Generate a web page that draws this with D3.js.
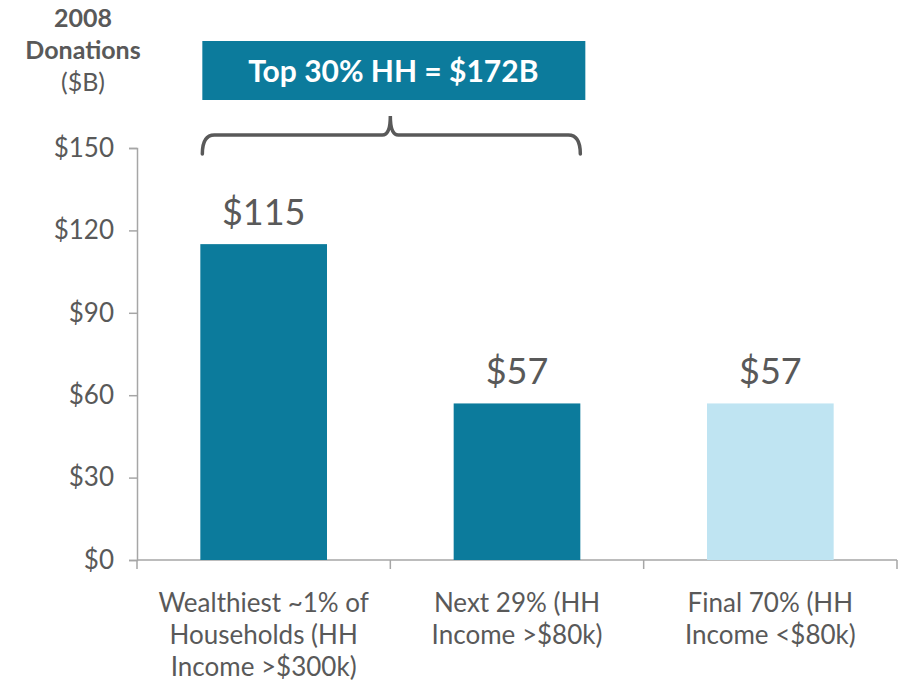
<!DOCTYPE html>
<html>
<head>
<meta charset="utf-8">
<script src="https://cdn.jsdelivr.net/npm/d3@7"></script>
<style>
  body { margin: 0; background: #fff; }
  text { font-family: "Lato", "Open Sans", sans-serif; }
</style>
</head>
<body>
<script>
// chart data
var categories = [
    ["Wealthiest ~1% of", "Households (HH", "Income >$300k)"],
    ["Next 29% (HH", "Income >$80k)"],
    ["Final 70% (HH", "Income <$80k)"]
];
var values = [115, 57, 57];
var valueLabels = ["$115", "$57", "$57"];
var barColors = ["#0c7b9c", "#0c7b9c", "#bfe4f2"];
var yTicks = [0, 30, 60, 90, 120, 150];
var calloutText = "Top 30% HH = $172B";

var width = 898, height = 683;
var grey = "#595959";

var svg = d3.select("body")
    .append("svg")
    .attr("width", width)
    .attr("height", height);

var x = d3.scaleBand()
    .domain(d3.range(values.length))
    .range([137, 897])
    .paddingInner(0.5)
    .paddingOuter(0.25);

var y = d3.scaleLinear()
    .domain([0, 150])
    .range([560, 148]);

// y axis
var yAxis = svg.append("g")
    .attr("transform", "translate(137,0)")
    .call(d3.axisLeft(y).tickValues(yTicks).tickSize(8).tickPadding(15).tickFormat(function(d) { return "$" + d; }));
yAxis.select(".domain").attr("stroke", "#a6a6a6").attr("stroke-width", 1.5);
yAxis.selectAll(".tick line").attr("stroke", "#a6a6a6").attr("stroke-width", 1.5);
yAxis.selectAll(".tick text")
    .attr("fill", grey)
    .style("font-size", "26px")
    .style("font-family", "Lato, sans-serif");

// x axis line with category dividers
var xAxisG = svg.append("g");
xAxisG.append("line")
    .attr("x1", 137).attr("x2", 897)
    .attr("y1", y(0)).attr("y2", y(0))
    .attr("stroke", "#a6a6a6").attr("stroke-width", 1.5);
var step = x.step();
d3.range(values.length + 1).forEach(function(i) {
    var xx = 137 + i * step;
    xAxisG.append("line")
        .attr("x1", xx).attr("x2", xx)
        .attr("y1", y(0)).attr("y2", y(0) + 9)
        .attr("stroke", "#a6a6a6").attr("stroke-width", 1.5);
});

// bars
svg.selectAll(".bar")
    .data(values)
    .enter()
    .append("rect")
    .attr("class", "bar")
    .attr("x", function(d, i) { return x(i); })
    .attr("y", function(d) { return y(d); })
    .attr("width", x.bandwidth())
    .attr("height", function(d) { return y(0) - y(d); })
    .attr("fill", function(d, i) { return barColors[i]; });

// value labels
svg.selectAll(".val")
    .data(values)
    .enter()
    .append("text")
    .attr("class", "val")
    .attr("x", function(d, i) { return x(i) + x.bandwidth() / 2; })
    .attr("y", function(d) { return y(d) - 19; })
    .attr("text-anchor", "middle")
    .attr("fill", grey)
    .style("font-size", "36px")
    .text(function(d, i) { return valueLabels[i]; });

// category labels
var cat = svg.selectAll(".cat")
    .data(categories)
    .enter()
    .append("text")
    .attr("class", "cat")
    .attr("text-anchor", "middle")
    .attr("fill", grey)
    .style("font-size", "26px")
    .attr("x", function(d, i) { return x(i) + x.bandwidth() / 2; })
    .attr("y", 612);
cat.each(function(d, i) {
    var t = d3.select(this);
    d.forEach(function(line, j) {
        t.append("tspan")
            .attr("x", x(i) + x.bandwidth() / 2)
            .attr("dy", j == 0 ? 0 : 32)
            .text(line);
    });
});

// axis title
var title = svg.append("text")
    .attr("text-anchor", "middle")
    .attr("fill", grey)
    .style("font-size", "25px");
title.append("tspan").attr("x", 83).attr("y", 27).style("font-weight", "bold").text("2008");
title.append("tspan").attr("x", 83).attr("y", 59).style("font-weight", "bold").text("Donations");
title.append("tspan").attr("x", 83).attr("y", 91).text("($B)");

// callout box + brace over first two bars
var bx0 = x(0), bx1 = x(1) + x.bandwidth();
var bmid = (bx0 + bx1) / 2;
svg.append("rect")
    .attr("x", bx0 + 2)
    .attr("y", 41)
    .attr("width", bx1 - bx0 + 3)
    .attr("height", 59)
    .attr("fill", "#0c7b9c");
svg.append("text")
    .attr("x", bmid + 3)
    .attr("y", 82)
    .attr("text-anchor", "middle")
    .attr("fill", "#fff")
    .style("font-size", "30px")
    .style("font-weight", "bold")
    .text(calloutText);

var by = 135;
var brace = d3.path();
brace.moveTo(bx0 + 2, 154);
brace.quadraticCurveTo(bx0 + 2, by, bx0 + 14, by);
brace.lineTo(bmid - 8, by);
brace.quadraticCurveTo(bmid, by, bmid, 116);
brace.quadraticCurveTo(bmid, by, bmid + 8, by);
brace.lineTo(bx1 - 12, by);
brace.quadraticCurveTo(bx1, by, bx1, 154);
svg.append("path")
    .attr("d", brace.toString())
    .attr("fill", "none")
    .attr("stroke", grey)
    .attr("stroke-width", 3.5)
    .attr("stroke-linecap", "round");
</script>
</body>
</html>
